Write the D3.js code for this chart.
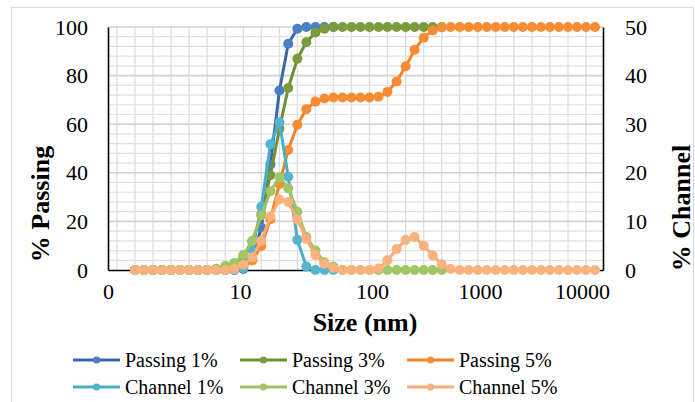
<!DOCTYPE html>
<html>
<head>
<meta charset="utf-8">
<script src="https://cdn.jsdelivr.net/npm/d3@7"></script>
<style>
body { margin: 0; background: #fff; }
text { font-family: "Liberation Serif", "Times New Roman", serif; fill: #000; }
</style>
</head>
<body>
<div id="chart"></div>
<script>
// channel sizes (nm)
var sizes = [1.60, 1.87, 2.19, 2.57, 3.01, 3.52, 4.12, 4.82, 5.64, 6.60, 7.73, 9.04,
  10.6, 12.4, 14.5, 17.0, 19.9, 23.2, 27.2, 31.8, 37.3, 43.6, 51.0, 59.8, 69.9, 81.8, 95.7,
  115, 139, 169, 205, 248, 301, 365, 442, 535, 649, 786, 954,
  1166, 1428, 1751, 2145, 2634, 3228, 3955, 4846, 5935, 7290, 8934, 10945, 13414];

var passing1 = [0,0,0,0,0,0,0,0,0,0,0,0, 0.4,4.5,17.5,43.4,73.9,93.1,99.3,100,100,100,100];
var channel1 = [0,0,0,0,0,0,0,0,0,0,0,0, 0.4,4.1,13.0,25.9,30.4,19.2,6.2,0.7,0,0,0];

var passing3 = [0,0,0,0,0,0,0,0,0, 0.3,1.1,2.5,5.6,11.6,22.8,39.0,58.1,74.9,86.9,93.7,97.7,99.3,
  100,100,100,100,100,100,100,100,100,100,100,100,100];
var channel3 = [0,0,0,0,0,0,0,0,0, 0.25,0.8,1.45,3.1,6.0,11.2,16.2,19.1,16.8,12.0,6.8,4.0,1.6,0.7,
  0,0,0,0,0,0,0,0,0,0,0,0];

var passing5 = [0,0,0,0,0,0,0,0,0,0,0, 0.2,1.3,3.9,9.9,20.9,35.4,49.4,59.8,66.2,69.3,70.6,
  71.0,71.0,71.0,71.0,71.0,71.3,73.3,77.6,83.8,90.6,95.6,98.6,99.8,
  100,100,100,100,100,100,100,100,100,100,100,100,100,100,100,100,100];
var channel5 = [0,0,0,0,0,0,0,0,0,0,0, 0.2,1.1,2.6,6.0,11.0,14.5,14.0,10.4,6.4,3.1,1.3,
  0.4,0,0,0,0,0.3,2.0,4.3,6.2,6.8,5.0,3.0,1.2,0.2,
  0,0,0,0,0,0,0,0,0,0,0,0,0,0,0,0];

var xTickValues = [1, 10, 100, 1000, 10000];
var xTickLabels = ["0", "10", "100", "1000", "10000"];
var leftTicks = [0, 20, 40, 60, 80, 100];
var rightTicks = [0, 10, 20, 30, 40, 50];

var series = [
  {name: "Passing 1%", values: passing1, axis: "left",  line: "#3a67aa", dot: "#4b7fc2"},
  {name: "Passing 3%", values: passing3, axis: "left",  line: "#6f8f35", dot: "#7a9c3d"},
  {name: "Passing 5%", values: passing5, axis: "left",  line: "#f3822a", dot: "#f68c33"},
  {name: "Channel 1%", values: channel1, axis: "right", line: "#4aaecb", dot: "#55b4cf"},
  {name: "Channel 3%", values: channel3, axis: "right", line: "#9cc25e", dot: "#a2c566"},
  {name: "Channel 5%", values: channel5, axis: "right", line: "#f8ac74", dot: "#f9b27e"}
];

var width = 695,
    height = 402,
    pLeft = 108, pRight = 603, pTop = 27, pBottom = 270;

var svg = d3.select("#chart")
  .append("svg")
  .attr("width", width)
  .attr("height", height);

svg.append("rect")
  .attr("x", 11.5).attr("y", 7.5)
  .attr("width", 682).attr("height", 400)
  .attr("fill", "#fff")
  .attr("stroke", "#d9d9d9");

// the axis decades are not evenly spread in the original
var x = d3.scaleLog()
  .domain([1, 10, 100, 1000, 10000, 16070])
  .range([pLeft, pLeft + 132, pLeft + 264, pLeft + 372, pLeft + 474, pRight]);
var yLeft = d3.scaleLinear().domain([0, 100]).range([pBottom, pTop]);
var yRight = d3.scaleLinear().domain([0, 50]).range([pBottom, pTop]);

// grid
var grid = svg.append("g");
var gx = sizes.filter(function(d, i) { return i % 2 == 0; }).map(function(d) { return x(d); });
gx.unshift(2 * x(sizes[0]) - x(sizes[2]));
grid.selectAll("line.v")
  .data(gx)
  .enter().append("line")
  .attr("x1", function(d) { return d; })
  .attr("x2", function(d) { return d; })
  .attr("y1", pTop).attr("y2", pBottom)
  .attr("stroke", "#dedede")
  .attr("stroke-width", 1.3);

grid.selectAll("line.h")
  .data(d3.range(4, 101, 4))
  .enter().append("line")
  .attr("x1", pLeft).attr("x2", pRight)
  .attr("y1", function(d) { return yLeft(d); })
  .attr("y2", function(d) { return yLeft(d); })
  .attr("stroke", function(d) { return d % 20 == 0 ? "#d2d2d2" : "#e0e0e0"; })
  .attr("stroke-width", function(d) { return d % 20 == 0 ? 1.6 : 1.2; });

// axes
var axL = svg.append("g")
  .attr("transform", "translate(" + pLeft + ",0)")
  .call(d3.axisLeft(yLeft).tickValues(leftTicks).tickSize(0).tickSizeOuter(0).tickPadding(20));
var axR = svg.append("g")
  .attr("transform", "translate(" + pRight + ",0)")
  .call(d3.axisRight(yRight).tickValues(rightTicks).tickSize(0).tickSizeOuter(0).tickPadding(22));
var axB = svg.append("g")
  .attr("transform", "translate(0," + pBottom + ")")
  .call(d3.axisBottom(x).tickValues(xTickValues)
    .tickFormat(function(d, i) { return xTickLabels[i]; })
    .tickSize(0).tickSizeOuter(0).tickPadding(13));

[axL, axR, axB].forEach(function(a) {
  a.attr("font-family", null).attr("font-size", 22);
  a.select(".domain").attr("stroke", "#000").attr("stroke-width", 1.6);
});

// series
series.forEach(function(s) {
  var y = s.axis == "left" ? yLeft : yRight;
  var g = svg.append("g");
  g.append("path")
    .datum(s.values)
    .attr("fill", "none")
    .attr("stroke", s.line)
    .attr("stroke-width", 3)
    .attr("stroke-linejoin", "round")
    .attr("d", d3.line()
      .x(function(d, i) { return x(sizes[i]); })
      .y(function(d) { return y(d); }));
  g.selectAll("circle")
    .data(s.values)
    .enter().append("circle")
    .attr("cx", function(d, i) { return x(sizes[i]); })
    .attr("cy", function(d) { return y(d); })
    .attr("r", 5)
    .attr("fill", s.dot);
});

// titles
svg.append("text")
  .attr("x", 365).attr("y", 331)
  .attr("text-anchor", "middle")
  .attr("font-size", 26).attr("font-weight", "bold")
  .text("Size (nm)");
svg.append("text")
  .attr("transform", "translate(40,204) rotate(-90)")
  .attr("text-anchor", "middle").attr("dy", "0.35em")
  .attr("font-size", 26).attr("font-weight", "bold")
  .text("% Passing");
svg.append("text")
  .attr("transform", "translate(681,208) rotate(-90)")
  .attr("text-anchor", "middle").attr("dy", "0.35em")
  .attr("font-size", 26).attr("font-weight", "bold")
  .text("% Channel");

// legend
var leg = svg.selectAll("g.leg")
  .data(series)
  .enter().append("g")
  .attr("class", "leg")
  .attr("transform", function(d, i) {
    return "translate(" + (73 + (i % 3) * 167) + "," + (360 + Math.floor(i / 3) * 27) + ")";
  });
leg.append("line")
  .attr("x1", 0).attr("x2", 47)
  .attr("stroke", function(d) { return d.line; })
  .attr("stroke-width", 3);
leg.append("circle")
  .attr("cx", 23.5).attr("r", 3.6)
  .attr("fill", function(d) { return d.dot; });
leg.append("text")
  .attr("x", 52).attr("dy", "0.35em")
  .attr("font-size", 20)
  .text(function(d) { return d.name; });
</script>
</body>
</html>
